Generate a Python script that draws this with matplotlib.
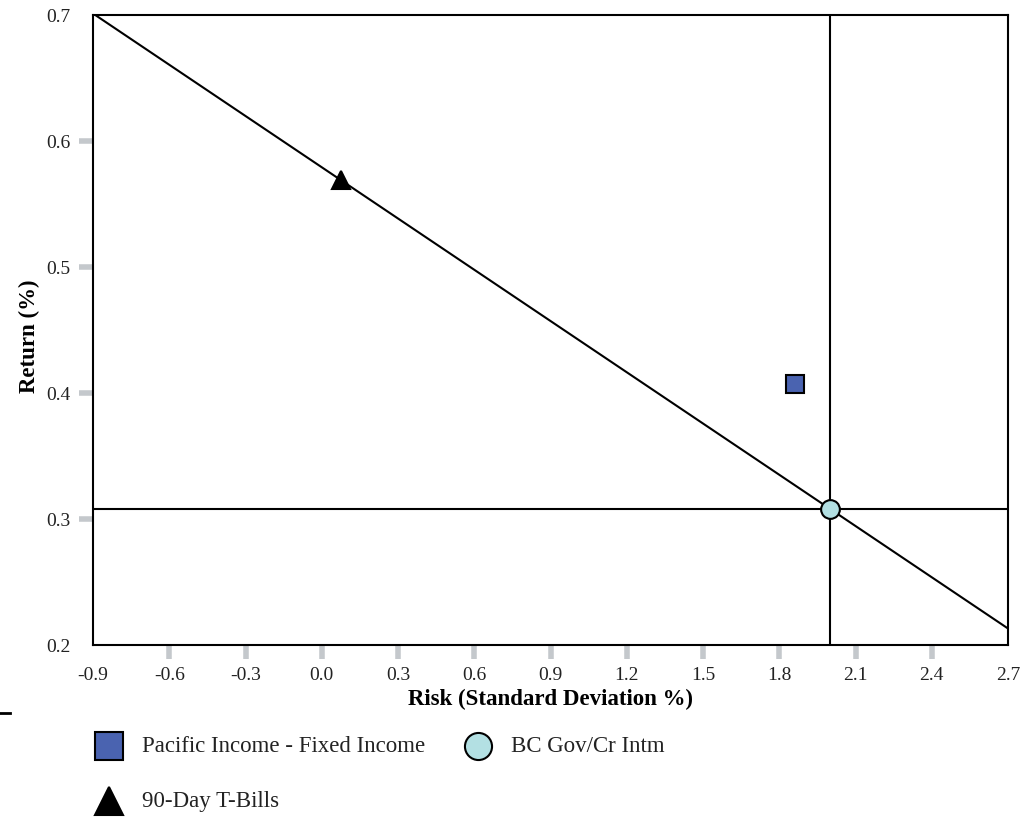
import matplotlib
matplotlib.use("Agg")
import matplotlib.pyplot as plt
from matplotlib.lines import Line2D

plt.rcParams['font.family'] = ['Liberation Serif', 'DejaVu Serif']

# Data
names = ["Pacific Income - Fixed Income", "BC Gov/Cr Intm", "90-Day T-Bills"]
risk = [1.86, 2.00, 0.075]
ret = [0.407, 0.308, 0.569]
markers = ["s", "o", "^"]
colors = ["#4A63B0", "#B3E0E3", "#000000"]
sizes = [13.5, 13.5, 13.5]

xticks = [-0.9, -0.6, -0.3, 0.0, 0.3, 0.6, 0.9, 1.2, 1.5, 1.8, 2.1, 2.4, 2.7]
yticks = [0.2, 0.3, 0.4, 0.5, 0.6, 0.7]
xlim = (-0.9, 2.7)
ylim = (0.2, 0.7)

W, H = 1036, 817
fig = plt.figure(figsize=(W / 100, H / 100), dpi=100)
ax = fig.add_axes([93 / W, 1 - 645 / H, (1008 - 93) / W, (645 - 15) / H])

# Capital market line through T-Bills and benchmark
bx, by = risk[1], ret[1]
tx, ty = risk[2], ret[2]
slope = (by - ty) / (bx - tx)
ax.plot(xlim, [ty + slope * (x - tx) for x in xlim], color="black", lw=1.5, zorder=2)
ax.axvline(bx, color="black", lw=1.5, zorder=2)
ax.axhline(by, color="black", lw=1.5, zorder=2)

for x, y, m, c, s in zip(risk, ret, markers, colors, sizes):
    ax.plot([x], [y], marker=m, ms=s, mfc=c, mec="black", mew=1.5, ls="none", zorder=3,
            clip_on=False)

ax.set_xlim(*xlim)
ax.set_ylim(*ylim)
ax.set_xticks(xticks)
ax.set_yticks(yticks)
ax.set_xticklabels([f"{v:.1f}" for v in xticks])
ax.set_yticklabels([f"{v:.1f}" for v in yticks])
ax.tick_params(axis="both", direction="out", length=10, width=4, color="#C4C8CC",
               labelsize=14, pad=6, labelcolor="#222222")
for axis in (ax.xaxis, ax.yaxis):
    t = axis.get_major_ticks()
    t[0].tick1line.set_visible(False)
    t[-1].tick1line.set_visible(False)
for sp in ax.spines.values():
    sp.set_linewidth(1.5)
    sp.set_color("black")

ax.set_xlabel("Risk (Standard Deviation %)", fontsize=16.5, fontweight="bold")
ax.set_ylabel("Return (%)", fontsize=16.5, fontweight="bold")
ax.xaxis.set_label_coords(0.5, -0.07)
ax.yaxis.set_label_coords(-0.058, 0.49)

# Legend drawn manually
def fx(px):
    return px / W

def fy(py):
    return 1 - py / H

leg = [(109, 746, 142), (478, 746, 511), (109, 801, 142)]
for (px, py, tx_), n, m, c, s in zip(leg, names, markers, colors, [19.5, 19.5, 19.5]):
    fig.add_artist(Line2D([fx(px)], [fy(py)], marker=m, ms=s, mfc=c, mec="black", mew=1.5,
                          ls="none", transform=fig.transFigure))
    fig.text(fx(tx_), fy(py), n, fontsize=16.5, va="center", ha="left", color="#222222")

fig.add_artist(Line2D([0, fx(10)], [fy(713), fy(713)], color="black", lw=2,
                      transform=fig.transFigure))

fig.savefig("out.png", dpi=100)
